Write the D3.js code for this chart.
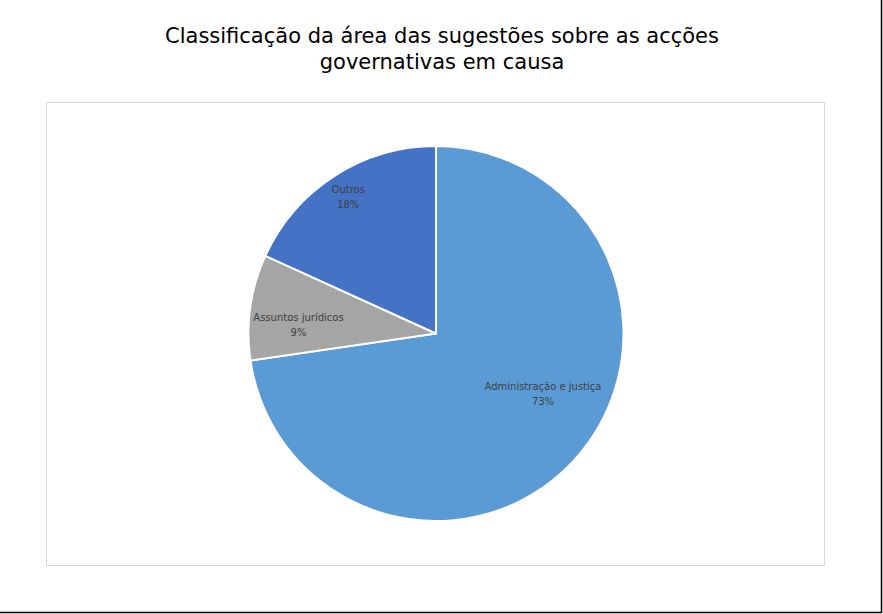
<!DOCTYPE html>
<html><head><meta charset="utf-8">
<script src="https://cdn.jsdelivr.net/npm/d3@7/dist/d3.min.js"></script>
<style>html,body{margin:0;padding:0;background:#fff;}svg{display:block;}</style>
</head><body>
<svg id="chart" width="883" height="614"></svg>
<script>
const titleLines = ["Classificação da área das sugestões sobre as acções", "governativas em causa"];
const categories = ["Administração e justiça", "Assuntos jurídicos", "Outros"];
const values = [72.7, 9.1, 18.2];
const percentLabels = ["73%", "9%", "18%"];
const colors = ["#5B9BD5", "#A5A5A5", "#4472C4"];

const svg = d3.select("#chart");
const W = 883, H = 614;
svg.append("rect").attr("x", 0).attr("y", 0).attr("width", W).attr("height", H).attr("fill", "#fff");
// outer border (right & bottom)
svg.append("line").attr("x1", 0).attr("y1", 612.5).attr("x2", 881.5).attr("y2", 612.5).attr("stroke", "#000").attr("stroke-width", 1.5);
svg.append("line").attr("x1", 881.5).attr("y1", 0).attr("x2", 881.5).attr("y2", 613).attr("stroke", "#000").attr("stroke-width", 1.5);

// plot area box
svg.append("rect").attr("x", 46.5).attr("y", 102.5).attr("width", 778).attr("height", 463)
  .attr("fill", "none").attr("stroke", "#d9d9d9").attr("stroke-width", 1);

// title
const title = svg.append("text").attr("x", 442).attr("y", 43).attr("text-anchor", "middle")
  .attr("font-family", "DejaVu Sans, Verdana, sans-serif").attr("font-size", 21).attr("fill", "#000");
titleLines.forEach((t, i) => title.append("tspan").attr("x", 442).attr("dy", i === 0 ? 0 : 26).text(t));

const cx = 436, cy = 333.5, R = 187.5;
const pie = d3.pie().sort(null).value(d => d)(values);
const arc = d3.arc().innerRadius(0).outerRadius(R);
const g = svg.append("g").attr("transform", `translate(${cx},${cy})`);
g.selectAll("path").data(pie).join("path")
  .attr("d", arc).attr("fill", (d, i) => colors[i])
  .attr("stroke", "#fff").attr("stroke-width", 2).attr("stroke-linejoin", "round");

// label placement (layout tweaks)
const labelRadius = [0.655, 0.735, 0.865];
const labelAngleShift = [-0.2, -0.077, 0];
pie.forEach((d, i) => {
  const a = (d.startAngle + d.endAngle) / 2 + labelAngleShift[i];
  const r = R * labelRadius[i];
  const x = r * Math.sin(a), y = -r * Math.cos(a);
  const t = g.append("text").attr("text-anchor", "middle")
    .attr("font-family", "DejaVu Sans, Verdana, sans-serif").attr("font-size", 10).attr("fill", "#404040");
  t.append("tspan").attr("x", x).attr("y", y - 4).text(categories[i]);
  t.append("tspan").attr("x", x).attr("y", y + 11).text(percentLabels[i]);
});
</script>
</body></html>
